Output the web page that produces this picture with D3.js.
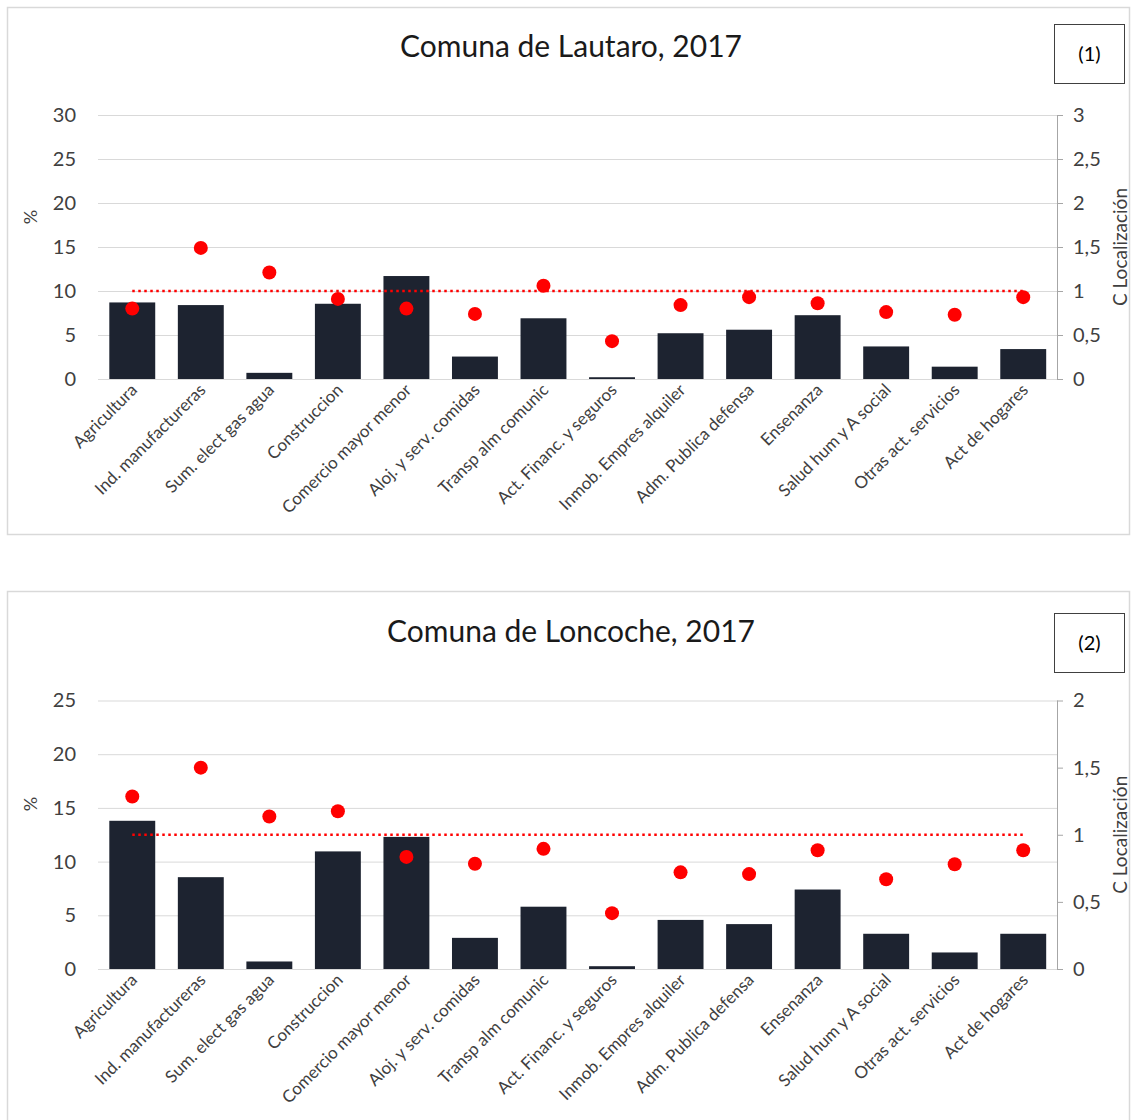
<!DOCTYPE html>
<html><head><meta charset="utf-8">
<script src="https://cdn.jsdelivr.net/npm/d3@7"></script>
<style>html,body{margin:0;padding:0;background:#fff}svg{display:block}</style>
</head><body>
<script>
const categories = ["Agricultura","Ind. manufactureras","Sum. elect gas agua","Construccion","Comercio mayor menor","Aloj. y serv. comidas","Transp alm comunic","Act. Financ. y seguros","Inmob. Empres alquiler","Adm. Publica defensa","Ensenanza","Salud hum y A social","Otras act. servicios","Act de hogares"];
const lautaroPct = [8.7, 8.4, 0.7, 8.55, 11.7, 2.55, 6.9, 0.2, 5.2, 5.6, 7.25, 3.7, 1.4, 3.4];
const lautaroCL = [0.80, 1.49, 1.21, 0.91, 0.80, 0.74, 1.06, 0.43, 0.84, 0.93, 0.86, 0.76, 0.73, 0.93];
const loncochePct = [13.8, 8.55, 0.7, 10.95, 12.3, 2.9, 5.8, 0.26, 4.57, 4.18, 7.4, 3.28, 1.54, 3.28];
const loncocheCL = [1.285, 1.50, 1.136, 1.175, 0.835, 0.784, 0.895, 0.416, 0.72, 0.707, 0.884, 0.668, 0.78, 0.884];
const leftTicks1 = [0, 5, 10, 15, 20, 25, 30];
const rightTicks1 = [0, 0.5, 1, 1.5, 2, 2.5, 3];
const leftTicks2 = [0, 5, 10, 15, 20, 25];
const rightTicks2 = [0, 0.5, 1, 1.5, 2];
const refValue = 1;
const titles = ["Comuna de Lautaro, 2017", "Comuna de Loncoche, 2017"];
const badges = ["(1)", "(2)"];

const W = 1132, H = 1120;
const FONT = "Lato, 'Open Sans', sans-serif";
const svg = d3.select("body").append("svg").attr("width", W).attr("height", H);

function fmt(v){ return String(v).replace(".", ","); }

function drawChart(cfg){
  const g = svg.append("g");
  g.append("rect").attr("x", 7.5).attr("y", cfg.panelTop + 0.5).attr("width", 1122).attr("height", cfg.panelH)
    .attr("fill", "#fff").attr("stroke", "#d9d9d9").attr("stroke-width", 1.5);
  g.append("text").attr("x", 571).attr("y", cfg.titleY).attr("text-anchor", "middle")
    .attr("font-family", FONT).attr("font-size", 30).attr("fill", "#1a1a1a").text(cfg.title);
  g.append("rect").attr("x", 1054.5).attr("y", cfg.badgeY + 0.5).attr("width", 70).attr("height", 59)
    .attr("fill", "#fff").attr("stroke", "#404040").attr("stroke-width", 1);
  g.append("text").attr("x", 1089.5).attr("y", cfg.badgeY + 37).attr("text-anchor", "middle")
    .attr("font-family", FONT).attr("font-size", 20).attr("fill", "#000").text(cfg.badge);

  const x = d3.scaleBand().domain(categories).range([98, 1057.5]).paddingInner(0.33).paddingOuter(0.165);
  const yL = d3.scaleLinear().domain([0, d3.max(cfg.leftTicks)]).range([cfg.bottom, cfg.top]);
  const yR = d3.scaleLinear().domain([0, d3.max(cfg.rightTicks)]).range([cfg.bottom, cfg.top]);

  g.append("g").selectAll("line").data(cfg.leftTicks.filter(d => d > 0)).join("line")
    .attr("x1", 98).attr("x2", 1057).attr("y1", d => yL(d) + 0.5).attr("y2", d => yL(d) + 0.5)
    .attr("stroke", "#d9d9d9").attr("stroke-width", 1);

  const la = g.append("g").attr("transform", "translate(98,0)")
    .call(d3.axisLeft(yL).tickValues(cfg.leftTicks).tickSize(0).tickPadding(22).tickFormat(d => d));
  la.select(".domain").remove();
  la.selectAll("text").attr("font-family", FONT).attr("font-size", 20).attr("fill", "#404040");

  g.append("g").selectAll("rect").data(cfg.pct).join("rect")
    .attr("x", (d, i) => x(categories[i])).attr("width", x.bandwidth())
    .attr("y", d => yL(d)).attr("height", d => cfg.bottom - yL(d))
    .attr("fill", "#1d2330");

  g.append("line").attr("x1", 98).attr("x2", 1057).attr("y1", cfg.bottom + 0.5).attr("y2", cfg.bottom + 0.5)
    .attr("stroke", "#d9d9d9");

  const c0 = x(categories[0]) + x.bandwidth() / 2;
  const c1 = x(categories[categories.length - 1]) + x.bandwidth() / 2;
  g.append("line").attr("x1", c0).attr("x2", c1).attr("y1", yR(refValue)).attr("y2", yR(refValue))
    .attr("stroke", "#ff0000").attr("stroke-width", 2.5).attr("stroke-dasharray", "2.5,3.5");

  g.append("g").selectAll("circle").data(cfg.cl).join("circle")
    .attr("cx", (d, i) => x(categories[i]) + x.bandwidth() / 2).attr("cy", d => yR(d))
    .attr("r", 7).attr("fill", "#ff0000");

  const ra = g.append("g").attr("transform", "translate(1057,0)")
    .call(d3.axisRight(yR).tickValues(cfg.rightTicks).tickSize(6).tickPadding(10).tickFormat(fmt));
  ra.select(".domain").attr("stroke", "#a6a6a6").attr("d", `M0.5,${cfg.top}V${cfg.bottom}`);
  ra.selectAll("line").attr("stroke", "#a6a6a6");
  ra.selectAll("text").attr("font-family", FONT).attr("font-size", 20).attr("fill", "#404040");

  g.append("text").attr("transform", `translate(37,${cfg.pctY}) rotate(-90)`).attr("text-anchor", "middle")
    .attr("font-family", FONT).attr("font-size", 18).attr("fill", "#404040").text("%");
  g.append("text").attr("transform", `translate(1127,${(cfg.top + cfg.bottom) / 2}) rotate(-90)`).attr("text-anchor", "middle")
    .attr("font-family", FONT).attr("font-size", 19).attr("fill", "#404040").text("C Localización");

  g.append("g").selectAll("text").data(categories).join("text")
    .attr("transform", d => `translate(${x(d) + x.bandwidth() / 2 + 6},${cfg.bottom + 12}) rotate(-45)`)
    .attr("text-anchor", "end").attr("font-family", FONT).attr("font-size", 17).attr("fill", "#404040")
    .text(d => d);
}

drawChart({title: titles[0], badge: badges[0], panelTop: 7, panelH: 527, titleY: 57, badgeY: 24,
  top: 115, bottom: 379, leftTicks: leftTicks1, rightTicks: rightTicks1, pct: lautaroPct, cl: lautaroCL, pctY: 217});
drawChart({title: titles[1], badge: badges[1], panelTop: 591, panelH: 540, titleY: 642, badgeY: 613,
  top: 700.5, bottom: 969, leftTicks: leftTicks2, rightTicks: rightTicks2, pct: loncochePct, cl: loncocheCL, pctY: 804});
</script>
</body></html>
